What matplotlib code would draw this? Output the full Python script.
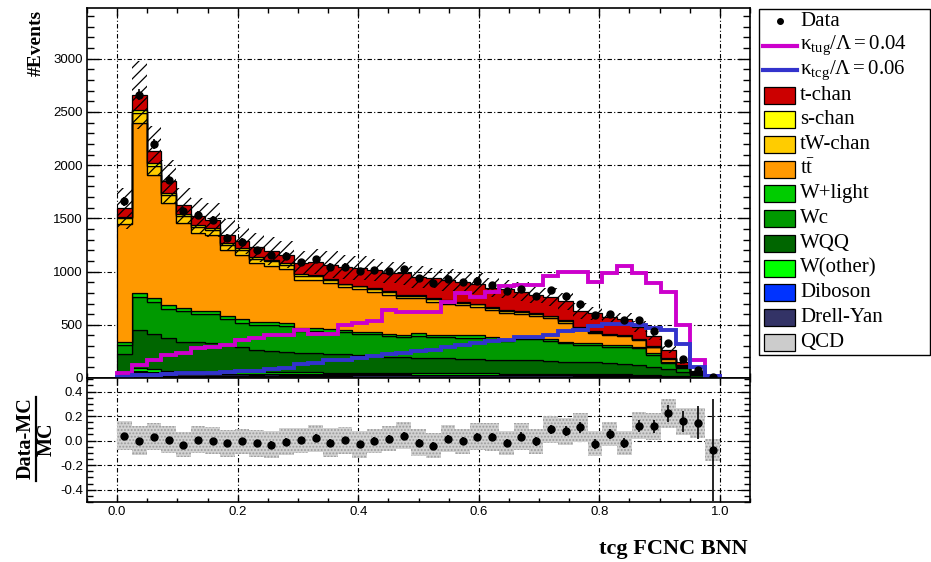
import matplotlib.pyplot as plt
import numpy as np
from matplotlib.patches import Rectangle
from matplotlib.lines import Line2D
from matplotlib.ticker import MultipleLocator, FormatStrFormatter

plt.rcParams['font.family'] = ['Liberation Sans', 'DejaVu Sans']
plt.rcParams['mathtext.fontset'] = 'custom'
plt.rcParams['mathtext.rm'] = 'Liberation Serif'
plt.rcParams['mathtext.it'] = 'Liberation Serif:italic'
plt.rcParams['mathtext.bf'] = 'Liberation Serif:bold'
plt.rcParams['axes.unicode_minus'] = False
plt.rcParams['hatch.linewidth'] = 0.9

SERIF = ['Liberation Serif', 'DejaVu Serif']

# 41 bins between 0 and 1 (BNN output)
n_bins = 41
x_min, x_max = 0.0, 1.0

# background components (events per bin)
qcd = [17, 27, 24, 21, 19, 18, 18, 18, 16, 16, 17, 16, 15, 15, 15, 15, 14, 14, 14, 14, 13,
       13, 13, 13, 13, 13, 12, 12, 12, 12, 12, 11, 11, 10, 10, 9, 8, 6, 4, 2, 0.5]
drell_yan = [18, 28, 24, 21, 19, 19, 18, 17, 17, 16, 16, 16, 16, 16, 15, 15, 15, 15, 14, 14, 14,
             13, 13, 14, 14, 13, 13, 13, 13, 12, 12, 12, 11, 10, 11, 10, 9, 7, 5, 3, 0.5]
diboson = [6, 9, 8, 7, 7, 6, 6, 6, 6, 6, 5, 5, 5, 5, 5, 5, 5, 5, 5, 5, 5,
           5, 5, 4, 4, 4, 4, 4, 4, 4, 4, 4, 4, 4, 3, 3, 3, 2, 2, 1, 0.1]
w_other = [18, 27, 24, 21, 20, 19, 18, 17, 17, 17, 16, 16, 16, 16, 15, 15, 15, 14, 14, 14, 14,
           14, 14, 13, 13, 13, 13, 13, 12, 12, 12, 11, 11, 11, 10, 10, 8, 7, 5, 2, 0.2]
wqq = [167, 363, 334, 303, 270, 273, 266, 258, 238, 208, 203, 194, 186, 183, 180, 175, 166, 157, 153, 151, 144,
       143, 140, 139, 134, 129, 127, 127, 125, 120, 113, 112, 109, 103, 101, 93, 79, 58, 36, 20, 0.6]
wc = [84, 304, 301, 277, 290, 265, 274, 234, 226, 232, 243, 245, 202, 207, 202, 203, 199, 209, 192, 184, 208,
      194, 197, 197, 202, 194, 181, 199, 202, 190, 172, 160, 164, 157, 160, 155, 113, 65, 40, 12, 0.8]
w_light = [31, 38, 34, 36, 36, 33, 33, 33, 31, 28, 29, 28, 27, 25, 25, 23, 22, 22, 22, 22, 22,
           22, 22, 24, 24, 23, 20, 21, 21, 20, 17, 16, 16, 15, 15, 14, 12, 9, 7, 4, 0.5]
ttbar = [1107, 1598, 1159, 962, 799, 727, 707, 620, 605, 555, 524, 501, 458, 454, 433, 401, 400, 375, 366, 345, 329,
         313, 296, 282, 266, 250, 238, 208, 191, 190, 178, 129, 94, 90, 80, 60, 55, 25, 15, 5, 0.8]
tw_chan = [51, 94, 83, 68, 64, 59, 53, 48, 47, 41, 42, 44, 38, 35, 32, 27, 25, 25, 27, 24, 23,
           23, 23, 23, 23, 23, 22, 21, 21, 20, 17, 15, 14, 14, 13, 11, 9, 7, 4, 2, 0.5]
s_chan = [17, 31, 27, 22, 21, 19, 17, 16, 15, 14, 14, 14, 12, 12, 10, 9, 8, 8, 9, 8, 8,
          8, 8, 7, 7, 7, 7, 7, 7, 7, 5, 5, 5, 4, 4, 3, 3, 2, 2, 1, 0.2]
t_chan = [79, 141, 116, 109, 78, 85, 75, 78, 72, 94, 88, 79, 110, 125, 131, 156, 166, 172, 172, 204, 172,
          188, 188, 188, 188, 181, 199, 186, 170, 174, 177, 155, 168, 156, 151, 115, 100, 78, 33, 10, 0.7]

# relative MC uncertainty (hatched band / grey ratio band)
mc_rel_unc = [0.12, 0.12, 0.11, 0.11, 0.10, 0.11, 0.11, 0.11, 0.10, 0.11, 0.11, 0.11, 0.10, 0.11, 0.12,
              0.11, 0.11, 0.10, 0.10, 0.11, 0.11, 0.10, 0.11, 0.10, 0.11, 0.11, 0.10, 0.11, 0.10, 0.11,
              0.11, 0.12, 0.10, 0.10, 0.10, 0.11, 0.11, 0.12, 0.11, 0.12, 0.09]

# signal templates
sig_tug = [50, 122, 169, 216, 232, 279, 294, 310, 357, 373, 404, 404, 451, 414, 414, 494, 517, 533, 639, 617, 617,
           617, 717, 796, 760, 811, 860, 870, 870, 959, 1000, 1000, 905, 984, 1053, 984, 890, 812, 498, 169, 19]
sig_tcg = [13, 28, 28, 35, 44, 44, 50, 55, 62, 70, 80, 95, 130, 144, 165, 170, 190, 207, 222, 238, 250,
           263, 290, 310, 330, 350, 357, 385, 389, 404, 445, 451, 485, 505, 508, 498, 467, 451, 322, 100, 19]

# observed data
data = [1659, 2660, 2198, 1863, 1569, 1531, 1481, 1317, 1281, 1200, 1155, 1149, 1088, 1115, 1045, 1045, 1003,
        1012, 1004, 1023, 937, 897, 934, 898, 915, 875, 821, 838, 774, 830, 774, 698, 592, 605, 547, 542,
        446, 325, 177, 71, 5]

# stack order, bottom to top
stack = [
    ('QCD', qcd, '#cccccc'),
    ('Drell-Yan', drell_yan, '#333366'),
    ('Diboson', diboson, '#0033ff'),
    ('W(other)', w_other, '#00ff00'),
    ('WQQ', wqq, '#006600'),
    ('Wc', wc, '#009900'),
    ('W+light', w_light, '#00cc00'),
    (r'$\mathrm{t\bar{t}}$', ttbar, '#ff9900'),
    ('tW-chan', tw_chan, '#ffcc00'),
    ('s-chan', s_chan, '#ffff00'),
    ('t-chan', t_chan, '#cc0000'),
]
c_tug = '#cc00cc'
c_tcg = '#3333cc'

W, H = 931, 562
edges = np.linspace(x_min, x_max, n_bins + 1)
centers = 0.5 * (edges[1:] + edges[:-1])
width = edges[1] - edges[0]

fig = plt.figure(figsize=(W / 100, H / 100), dpi=100)
ax = fig.add_axes([87 / W, 1 - 378 / H, 663 / W, 370 / H])
rax = fig.add_axes([87 / W, 1 - 502 / H, 663 / W, 124 / H])

# stacked backgrounds
base = np.zeros(n_bins)
for name, vals, col in stack:
    top = base + np.array(vals, dtype=float)
    ax.stairs(top, edges, baseline=base, fill=True, facecolor=col,
              edgecolor='black', linewidth=0.9, zorder=1)
    base = top
mc = base

# MC uncertainty, hatched
unc = mc * np.array(mc_rel_unc)
ax.bar(centers, 2 * unc, width=width, bottom=mc - unc, fill=False, hatch='///',
       edgecolor='black', linewidth=0, zorder=2)

# signals
ax.stairs(sig_tug, edges, color=c_tug, linewidth=2.8, zorder=3)
ax.stairs(sig_tcg, edges, color=c_tcg, linewidth=2.8, zorder=3)

data = np.array(data, dtype=float)
ax.errorbar(centers, data, yerr=np.sqrt(data), fmt='o', color='black', markersize=5,
            elinewidth=1.2, capsize=0, zorder=5)

# ratio panel
ratio = data / mc - 1
ratio_err = np.sqrt(data) / mc
rel = np.array(mc_rel_unc)
rax.bar(centers, 2 * rel, width=width, bottom=ratio - rel, facecolor='#d2d2d2',
        hatch='.....', edgecolor='#9a9a9a', linewidth=0, zorder=1)
rax.errorbar(centers, ratio, yerr=ratio_err, fmt='o', color='black', markersize=5,
             elinewidth=1.2, capsize=0, zorder=5)

grid_style = dict(color='black', linestyle=(0, (4, 2, 1, 2)), linewidth=0.8)
for a in (ax, rax):
    a.set_xlim(-0.05, 1.05)
    a.set_axisbelow(True)
    a.xaxis.set_major_locator(MultipleLocator(0.2))
    a.xaxis.set_minor_locator(MultipleLocator(0.05))
    a.tick_params(which='both', direction='in', top=True, right=True, labelsize=9.5,
                  width=1, pad=3)
    a.grid(True, which='major', **grid_style)
    for s in a.spines.values():
        s.set_linewidth(1.2)

ax.set_ylim(0, 3477)
ax.yaxis.set_major_locator(MultipleLocator(500))
ax.yaxis.set_minor_locator(MultipleLocator(100))
ax.tick_params(axis='y', which='major', length=8.5)
ax.tick_params(axis='y', which='minor', length=5)
ax.tick_params(axis='x', which='major', length=5.5)
ax.tick_params(axis='x', which='minor', length=3.5)
ax.tick_params(labelbottom=False)

rax.set_ylim(-0.5, 0.51)
rax.yaxis.set_major_locator(MultipleLocator(0.2))
rax.yaxis.set_minor_locator(MultipleLocator(0.05))
rax.yaxis.set_major_formatter(FormatStrFormatter('%.1f'))
rax.xaxis.set_major_formatter(FormatStrFormatter('%.1f'))
rax.tick_params(axis='y', which='major', length=6.5)
rax.tick_params(axis='y', which='minor', length=4)
rax.tick_params(axis='x', which='major', length=5)
rax.tick_params(axis='x', which='minor', length=3)

# axis titles
fig.text(36 / W, 1 - 10 / H, '#Events', rotation=90, ha='center', va='top',
         family=SERIF, weight='bold', size=14)
fig.text(25.5 / W, 1 - 438.5 / H, 'Data-MC', rotation=90, ha='center', va='center',
         family=SERIF, weight='bold', size=14.5)
fig.text(46.5 / W, 1 - 439 / H, 'MC', rotation=90, ha='center', va='center',
         family=SERIF, weight='bold', size=14.5)
fig.add_artist(Line2D([35.5 / W, 35.5 / W], [1 - 397 / H, 1 - 481 / H],
                      transform=fig.transFigure, color='black', linewidth=1.6))
fig.text(748 / W, 1 - 549 / H, 'tcg FCNC BNN', ha='right', va='center',
         family=SERIF, weight='bold', size=16)

# legend box, drawn by hand to follow the ROOT layout
fig.add_artist(Rectangle((759 / W, 1 - 355 / H), 171 / W, 346 / H, transform=fig.transFigure,
                         facecolor='white', edgecolor='black', linewidth=1))
entries = [('Data', 'marker', 'black'),
           (r'$\mathrm{\kappa_{tug}/\Lambda = 0.04}$', 'line', c_tug),
           (r'$\mathrm{\kappa_{tcg}/\Lambda = 0.06}$', 'line', c_tcg)]
entries += [(name, 'box', col) for name, vals, col in stack[::-1]]
for i, (label, kind, col) in enumerate(entries):
    y = 21 + i * 24.7
    if kind == 'marker':
        fig.add_artist(Line2D([780 / W], [1 - y / H], marker='o', markersize=4, color=col,
                              linestyle='none', transform=fig.transFigure))
    elif kind == 'line':
        fig.add_artist(Line2D([763 / W, 797 / W], [1 - y / H, 1 - y / H], color=col,
                              linewidth=3, transform=fig.transFigure))
    else:
        fig.add_artist(Rectangle((764 / W, 1 - (y + 8.5) / H), 31 / W, 17 / H,
                                 transform=fig.transFigure, facecolor=col,
                                 edgecolor='black', linewidth=0.9))
    fig.text(800 / W, 1 - y / H, label, ha='left', va='center', family=SERIF, size=15)

fig.savefig('out.png', dpi=100)
